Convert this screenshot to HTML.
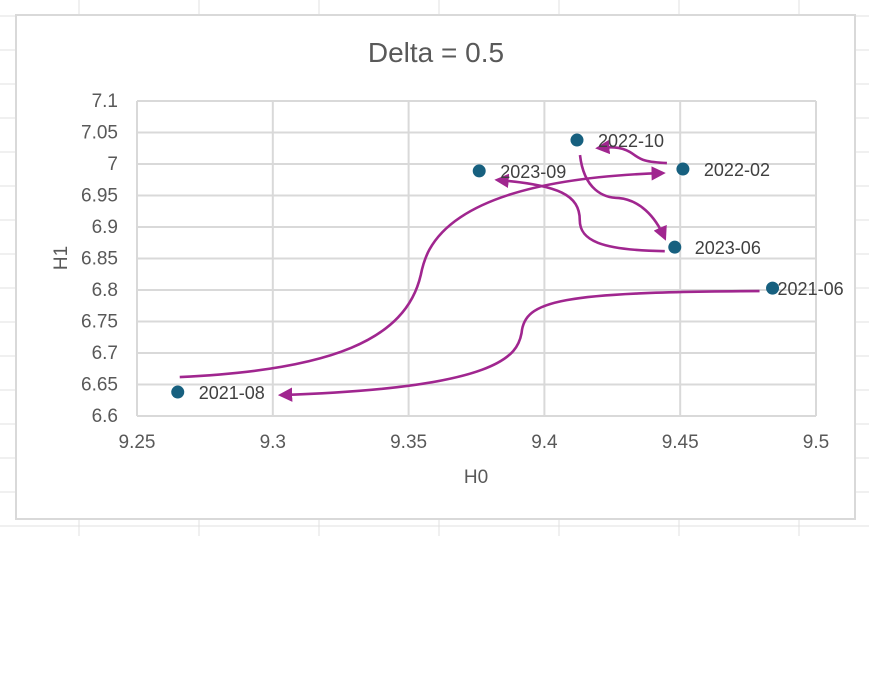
<!DOCTYPE html>
<html><head><meta charset="utf-8"><style>
body{margin:0;background:#fff;}
svg{display:block;font-family:"Liberation Sans",Arial,sans-serif;}
</style></head><body>
<svg id="c" width="869" height="700">
<defs><marker id="ah" viewBox="0 0 10 10" refX="8" refY="5" markerWidth="5.5" markerHeight="5.5" orient="auto"><path d="M0,0L10,5L0,10z" fill="#a0268f"/></marker></defs>
<g id="sheet"></g>
<rect x="16" y="15" width="839" height="504" fill="#fff" stroke="#d9d9d9" stroke-width="2"/>
<text x="436" y="62" font-size="28" fill="#595959" text-anchor="middle">Delta = 0.5</text>
<g id="grid"></g><g id="ticks"></g><g id="arrows"></g><g id="pts"></g>
<text x="476" y="483" font-size="19" fill="#595959" text-anchor="middle">H0</text>
<text x="67" y="258" font-size="19" fill="#595959" text-anchor="middle" transform="rotate(-90 67 258)">H1</text>
</svg>
<script>
const xTicks=[9.25,9.3,9.35,9.4,9.45,9.5];
const yTicks=[6.6,6.65,6.7,6.75,6.8,6.85,6.9,6.95,7,7.05,7.1];
const labels=["2021-06","2021-08","2022-02","2022-10","2023-06","2023-09"];
const h0=[9.484,9.265,9.451,9.412,9.448,9.376];
const h1=[6.803,6.638,6.992,7.038,6.868,6.989];
const NS="http://www.w3.org/2000/svg";
const X=v=>137+(v-9.25)/0.25*679;
const Y=v=>416-(v-6.6)/0.5*315;
function mk(t,a,p){const e=document.createElementNS(NS,t);for(const k in a)e.setAttribute(k,a[k]);p.appendChild(e);return e;}
const sheet=document.getElementById('sheet');
for(let y=16;y<=526;y+=34){const l=mk('line',{x1:0,x2:869,y1:y,y2:y,stroke:'#e1e1e1','stroke-width':1},sheet);

}
for(let x=79;x<869;x+=120){const l=mk('line',{x1:x,x2:x,y1:0,y2:536,stroke:'#e1e1e1','stroke-width':1},sheet);

}
const g=document.getElementById('grid'),tk=document.getElementById('ticks');
yTicks.forEach(v=>{const l=mk('line',{x1:137,x2:816,y1:Y(v),y2:Y(v),stroke:'#d9d9d9','stroke-width':2},g);


const t=mk('text',{x:118,y:Y(v)+6,'font-size':19,fill:'#595959','text-anchor':'end'},tk);t.textContent=String(v);

});
xTicks.forEach(v=>{const l=mk('line',{x1:X(v),x2:X(v),y1:101,y2:416,stroke:'#d9d9d9','stroke-width':2},g);


const t=mk('text',{x:X(v),y:448,'font-size':19,fill:'#595959','text-anchor':'middle'},tk);t.textContent=String(v);

});
const ar=document.getElementById('arrows');
const P=(i,dx,dy)=>[X(h0[i])+dx,Y(h1[i])+dy];
function arrow(d){const p=mk('path',{d:d,fill:'none',stroke:'#a0268f','stroke-width':2.6,'marker-end':'url(#ah)'},ar);

}
let a=P(0,-13,3),b=P(1,103,3);
arrow(`M${a} C${a[0]-200},${a[1]+1} ${a[0]-235},${a[1]+9} ${a[0]-238},${a[1]+42} C${a[0]-242},${a[1]+64} ${b[0]+220},${b[1]-7} ${b}`);
a=P(1,2,-15);b=P(2,-20,4);
arrow(`M${a} C${a[0]+151},${a[1]-7} ${a[0]+226},${a[1]-37} ${a[0]+241},${a[1]-102} C${a[0]+246},${a[1]-127} ${a[0]+261},${b[1]+7} ${b}`);
a=P(2,-16,-6);b=P(3,21,8);
arrow(`M${a} C${a[0]-27},${a[1]-1} ${a[0]-27},${a[1]-5} ${a[0]-37},${a[1]-11} C${a[0]-47},${a[1]-17} ${b[0]+11},${b[1]-1} ${b}`);
a=P(3,3,15);b=P(4,-10,-9);
arrow(`M${a} C${a[0]+4},${a[1]+35} ${a[0]+24},${a[1]+43} ${a[0]+39},${a[1]+43} C${a[0]+59},${a[1]+45} ${b[0]-10},${b[1]-23} ${b}`);
a=P(4,-10,4);b=P(5,18,9);
arrow(`M${a} C${a[0]-65},${a[1]-1} ${a[0]-85},${a[1]-11} ${a[0]-85},${a[1]-31} C${a[0]-85},${a[1]-56} ${b[0]+62},${b[1]+5} ${b}`);
const pg=document.getElementById('pts');
labels.forEach((s,i)=>{const c=mk('circle',{cx:X(h0[i]),cy:Y(h1[i]),r:6.5,fill:'#17607f'},pg);


const dx=i==0?5:(i==4?20:21);
const t=mk('text',{x:X(h0[i])+dx,y:Y(h1[i])+7,'font-size':18,fill:'#404040'},pg);t.textContent=s;

});
</script>
</body></html>
